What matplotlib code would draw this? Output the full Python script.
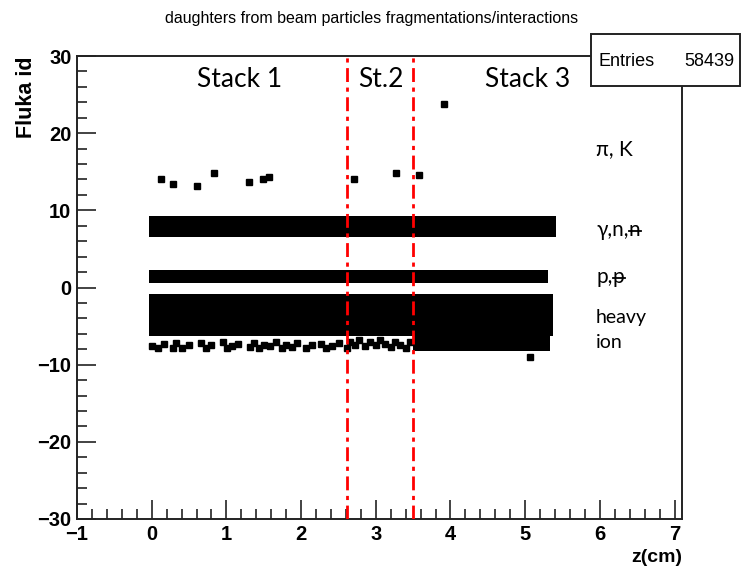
import matplotlib
matplotlib.use("Agg")
import matplotlib.pyplot as plt
from matplotlib.patches import Rectangle
from matplotlib.lines import Line2D
from matplotlib.ticker import MultipleLocator

# ---------------- data ----------------
# dense bands of daughters (z range, Fluka-id range)
band_names = ["gamma_n_nbar", "p_pbar", "heavy_core", "heavy_stack3"]
band_z_start = [-0.04, -0.04, -0.04, 3.50]
band_z_end = [5.41, 5.31, 5.37, 5.33]
band_id_low = [6.6, 0.56, -6.3, -8.2]
band_id_high = [9.3, 2.33, -0.8, -6.3]

# isolated daughters (pi, K, ...)
iso_z = [0.12, 0.28, 0.61, 0.84, 1.30, 1.49, 1.57, 2.71, 3.27, 3.58, 3.91, 5.06]
iso_id = [14.1, 13.4, 13.1, 14.8, 13.7, 14.1, 14.3, 14.1, 14.9, 14.6, 23.8, -9.0]

# sparse heavy ions below the dense band
low_z = [0.01, 0.08, 0.17, 0.28, 0.33, 0.41, 0.50, 0.66, 0.73, 0.80, 0.95, 1.01,
         1.08, 1.15, 1.31, 1.37, 1.44, 1.51, 1.58, 1.67, 1.75, 1.80, 1.88, 1.95,
         2.07, 2.15, 2.27, 2.34, 2.42, 2.51, 2.61,
         2.66, 2.72, 2.78, 2.85, 2.92, 3.00, 3.05, 3.12, 3.20, 3.26, 3.33, 3.40, 3.46]
low_id = [-7.6, -7.9, -7.3, -7.8, -7.2, -7.9, -7.5, -7.2, -7.8, -7.4, -7.1, -7.9,
          -7.6, -7.3, -7.7, -7.2, -7.9, -7.4, -7.6, -7.1, -7.8, -7.4, -7.7, -7.2,
          -7.9, -7.5, -7.3, -7.8, -7.6, -7.2, -7.9,
          -7.0, -7.4, -6.8, -7.6, -7.1, -7.5, -6.8, -7.3, -7.7, -7.0, -7.4, -7.8, -7.1]

stack_boundaries = [2.62, 3.50]
stack_labels = ["Stack 1", "St.2", "Stack 3"]
stack_label_z = [1.18, 3.07, 5.03]

# particle labels: (plain prefix, struck-through antiparticle letter)
particle_prefix = ["\u03c0, K", "\u03b3,n,", "p,", "heavy", "ion"]
particle_struck = ["", "n", "p", "", ""]
particle_label_id = [18.0, 7.4, 1.3, -3.9, -7.1]

entries = 58439

# ---------------- figure ----------------
W, H = 745, 568
fig = plt.figure(figsize=(W / 100, H / 100), dpi=100)
x0, x1 = 77, 682
y0, y1 = 56, 519
ax = fig.add_axes([x0 / W, 1 - y1 / H, (x1 - x0) / W, (y1 - y0) / H])

ax.set_xlim(-1, 7.1)
ax.set_ylim(-30, 30)

for zs, ze, lo, hi in zip(band_z_start, band_z_end, band_id_low, band_id_high):
    ax.broken_barh([(zs, ze - zs)], (lo, hi - lo), facecolors="black", zorder=2)

ax.plot(iso_z, iso_id, ls="none", marker="s", ms=4.3, color="black", zorder=3)
ax.plot(low_z, low_id, ls="none", marker="s", ms=4.3, color="black", zorder=3)

for zb in stack_boundaries:
    ax.axvline(zb, color="red", lw=2, ls=(0, (5, 2, 1.5, 2)), zorder=5)

narrow = ["Liberation Sans", "DejaVu Sans"]
cal = ["Lato", "DejaVu Sans"]

for lab, z in zip(stack_labels, stack_label_z):
    ax.text(z, 26.9, lab, ha="center", va="center", fontsize=19, family=cal, zorder=6)

struck_texts = []
for pre, st, yid in zip(particle_prefix, particle_struck, particle_label_id):
    fs = 14 if pre in ("heavy", "ion") else 15
    t1 = ax.text(5.95, yid, pre, ha="left", va="center", fontsize=fs,
                 family=cal, zorder=6)
    if st:
        t2 = ax.annotate(st, xy=(1, 0.5), xycoords=t1, ha="left", va="center",
                         fontsize=fs, family=cal, zorder=6)
        struck_texts.append(t2)

# axes style (ROOT-like)
for s in ax.spines.values():
    s.set_linewidth(1.4)
    s.set_color("#222222")
ax.xaxis.set_major_locator(MultipleLocator(1))
ax.xaxis.set_minor_locator(MultipleLocator(0.2))
ax.yaxis.set_major_locator(MultipleLocator(10))
ax.yaxis.set_minor_locator(MultipleLocator(2))
ax.tick_params(which="both", direction="in", top=False, right=False, width=1.2,
               color="#222222")
ax.tick_params(which="major", length=14, pad=4)
ax.tick_params(which="minor", length=7)
ax.set_xticks(range(-1, 8))
ax.set_xticklabels([str(v).replace("-", "\u2212") for v in range(-1, 8)])
ax.set_yticks(range(-30, 31, 10))
ax.set_yticklabels([str(v).replace("-", "\u2212") for v in range(-30, 31, 10)])
for t in ax.get_xticklabels() + ax.get_yticklabels():
    t.set_fontweight("bold")
    t.set_fontsize(14.5)
    t.set_family(narrow)

ax.set_xlabel("z(cm)", loc="right", fontsize=14, fontweight="bold", family=narrow, labelpad=4)
ax.set_ylabel("Fluka id", loc="top", fontsize=15.5, fontweight="bold", family=narrow)
ax.yaxis.set_label_coords(-0.066, 1.0)

fig.text(372 / W, 1 - 18 / H, "daughters from beam particles fragmentations/interactions",
         ha="center", va="center", fontsize=11.5, family=narrow)

# stats box
bx0, bx1, by0, by1 = 591, 740, 34, 86
fig.patches.append(Rectangle((bx0 / W, 1 - by1 / H), (bx1 - bx0) / W, (by1 - by0) / H,
                             transform=fig.transFigure, facecolor="white",
                             edgecolor="#222222", lw=1.4, zorder=10))
fig.text(599 / W, 1 - 61 / H, "Entries", ha="left", va="center", fontsize=13,
         family=narrow, zorder=11)
fig.text(734 / W, 1 - 61 / H, str(entries), ha="right", va="center", fontsize=13,
         family=narrow, zorder=11)

# strike-through bars for antiparticles
fig.canvas.draw()
inv = fig.transFigure.inverted()
for t2 in struck_texts:
    bb = t2.get_window_extent()
    ym = bb.y0 + 0.47 * bb.height
    (fx0, fy), (fx1, _) = inv.transform([(bb.x0 + 0.5, ym), (bb.x1 + 0.5, ym)])
    fig.add_artist(Line2D([fx0, fx1], [fy, fy], transform=fig.transFigure,
                          color="black", lw=1.3, zorder=12))

fig.savefig("out.png", dpi=100)
